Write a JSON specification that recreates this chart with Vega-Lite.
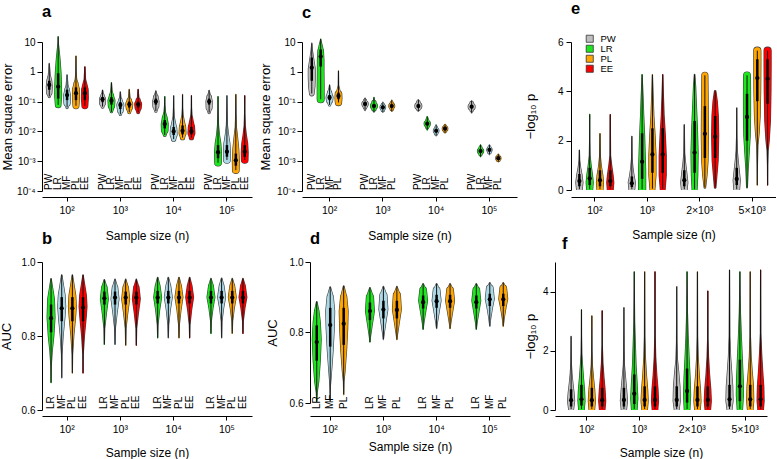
{
"$schema":"https://vega.github.io/schema/vega-lite/v6.json",
"padding":0,
"background":"white",
"config":{"font":"Liberation Sans","view":{"stroke":null},
 "axis":{"grid":false,"domainColor":"#000","tickColor":"#000","labelColor":"#000","titleColor":"#000","labelFontSize":10,"titleFontSize":13,"titleFontWeight":"normal","labelFont":"Liberation Sans","titleFont":"Liberation Sans"},
 "title":{"font":"Liberation Sans","fontSize":16.5,"fontWeight":"bold","anchor":"start","frame":"group","baseline":"alphabetic","color":"#000"}},
"datasets":{"vio":[
{"p":"a","g":"10²","m":"PW","v":[0.148,0.2,0.316,0.501,0.794,1.91],"w":[0.3,0.75,0.85,0.7,0.25,0],"md":0.363,"q1":0.25,"q3":0.5},
{"p":"a","g":"10²","m":"LR","v":[0.0776,0.158,0.398,1,2.51,5.01,7.94,10,15.1],"w":[0.8,1,0.95,0.8,0.55,0.3,0.1,0.03,0],"md":0.316,"q1":0.126,"q3":0.891},
{"p":"a","g":"10²","m":"MF","v":[0.0631,0.0891,0.158,0.251,0.355,0.794],"w":[0.3,0.9,1,0.65,0.25,0],"md":0.166,"q1":0.112,"q3":0.251},
{"p":"a","g":"10²","m":"PL","v":[0.0724,0.126,0.251,0.398,0.562,1,3.39],"w":[0.85,1,1,0.6,0.2,0.03,0],"md":0.191,"q1":0.112,"q3":0.3},
{"p":"a","g":"10²","m":"EE","v":[0.0724,0.126,0.251,0.398,0.562,1.48],"w":[0.85,1,0.95,0.55,0.2,0],"md":0.191,"q1":0.112,"q3":0.3},
{"p":"a","g":"10³","m":"PW","v":[0.0676,0.0891,0.12,0.158,0.2,0.245],"w":[0.4,0.85,0.85,0.5,0.15,0],"md":0.12,"q1":0.0955,"q3":0.141},
{"p":"a","g":"10³","m":"LR","v":[0.0457,0.0708,0.107,0.158,0.224,0.437],"w":[0.3,0.9,1,0.6,0.2,0],"md":0.107,"q1":0.0794,"q3":0.141},
{"p":"a","g":"10³","m":"MF","v":[0.0372,0.0501,0.0759,0.112,0.141,0.214],"w":[0.3,0.8,1,0.5,0.15,0],"md":0.0776,"q1":0.0562,"q3":0.0955},
{"p":"a","g":"10³","m":"PL","v":[0.0437,0.0631,0.0813,0.112,0.141,0.257],"w":[0.4,0.9,1,0.6,0.2,0],"md":0.0813,"q1":0.0631,"q3":0.1},
{"p":"a","g":"10³","m":"EE","v":[0.0437,0.0631,0.0813,0.112,0.141,0.257],"w":[0.4,0.9,1,0.6,0.2,0],"md":0.0813,"q1":0.0631,"q3":0.1},
{"p":"a","g":"10⁴","m":"PW","v":[0.0479,0.0708,0.1,0.141,0.191,0.229],"w":[0.3,0.85,0.9,0.65,0.2,0],"md":0.1,"q1":0.0794,"q3":0.126},
{"p":"a","g":"10⁴","m":"LR","v":[0.00759,0.0112,0.0178,0.0282,0.0447,0.0794,0.148],"w":[0.4,0.95,1,0.7,0.2,0.03,0],"md":0.0178,"q1":0.0126,"q3":0.024},
{"p":"a","g":"10⁴","m":"MF","v":[0.0055,0.00794,0.0126,0.02,0.0316,0.0631,0.158],"w":[0.6,1,0.9,0.5,0.15,0.03,0],"md":0.01,"q1":0.00759,"q3":0.0141},
{"p":"a","g":"10⁴","m":"PL","v":[0.00617,0.00891,0.0141,0.0224,0.0355,0.0631,0.174],"w":[0.6,1,0.9,0.5,0.15,0.03,0],"md":0.0105,"q1":0.00794,"q3":0.0158},
{"p":"a","g":"10⁴","m":"EE","v":[0.00617,0.00891,0.0141,0.0224,0.0355,0.0631,0.158],"w":[0.6,1,0.9,0.5,0.15,0.03,0],"md":0.01,"q1":0.00794,"q3":0.0141},
{"p":"a","g":"10⁵","m":"PW","v":[0.0427,0.0631,0.1,0.141,0.191,0.24],"w":[0.3,0.85,0.9,0.65,0.2,0],"md":0.1,"q1":0.0794,"q3":0.126},
{"p":"a","g":"10⁵","m":"LR","v":[0.000891,0.002,0.00398,0.00794,0.0158,0.0398,0.148],"w":[0.95,1,0.8,0.4,0.15,0.04,0],"md":0.002,"q1":0.00126,"q3":0.00347},
{"p":"a","g":"10⁵","m":"MF","v":[0.0011,0.002,0.00398,0.00794,0.0158,0.0398,0.158],"w":[0.95,1,0.85,0.45,0.15,0.04,0],"md":0.00209,"q1":0.00141,"q3":0.00347},
{"p":"a","g":"10⁵","m":"PL","v":[0.000501,0.001,0.00251,0.00631,0.0141,0.0398,0.174],"w":[0.95,1,0.85,0.5,0.15,0.04,0],"md":0.00107,"q1":0.000708,"q3":0.0018},
{"p":"a","g":"10⁵","m":"EE","v":[0.0011,0.002,0.00398,0.00794,0.0158,0.0398,0.158],"w":[0.95,1,0.85,0.45,0.15,0.04,0],"md":0.00209,"q1":0.00141,"q3":0.00347},
{"p":"c","g":"10²","m":"PW","v":[0.186,0.316,0.631,1.26,2.51,5.01,9.12],"w":[0.65,0.9,1,1,0.6,0.2,0],"md":1.38,"q1":0.5,"q3":3},
{"p":"c","g":"10²","m":"LR","v":[0.12,0.316,1,2.51,5.01,7.94,11.7,12.6],"w":[1,1,0.95,0.95,0.8,0.4,0.05,0],"md":3.24,"q1":1.5,"q3":5.6},
{"p":"c","g":"10²","m":"MF","v":[0.0776,0.112,0.138,0.2,0.282,0.363],"w":[0.3,0.9,1,0.6,0.15,0],"md":0.138,"q1":0.112,"q3":0.166},
{"p":"c","g":"10²","m":"PL","v":[0.0933,0.126,0.178,0.24,0.355,1.07],"w":[0.9,1,0.95,0.4,0.05,0],"md":0.155,"q1":0.12,"q3":0.2},
{"p":"c","g":"10³","m":"PW","v":[0.0501,0.0631,0.0832,0.107,0.132],"w":[0,0.5,0.9,0.45,0],"md":0.0832,"q1":0.0724,"q3":0.0955},
{"p":"c","g":"10³","m":"LR","v":[0.0447,0.0562,0.0708,0.0933,0.112,0.138],"w":[0.05,0.6,1,0.6,0.1,0],"md":0.0708,"q1":0.0631,"q3":0.0832},
{"p":"c","g":"10³","m":"MF","v":[0.0437,0.0525,0.0646,0.0794,0.0955],"w":[0,0.5,0.8,0.4,0],"md":0.0646,"q1":0.0575,"q3":0.0724},
{"p":"c","g":"10³","m":"PL","v":[0.0468,0.0562,0.0708,0.0891,0.112],"w":[0,0.5,0.85,0.45,0],"md":0.0708,"q1":0.0631,"q3":0.0794},
{"p":"c","g":"10⁴","m":"PW","v":[0.0468,0.0562,0.0708,0.0955,0.117],"w":[0,0.5,1,0.5,0],"md":0.0708,"q1":0.0631,"q3":0.0794},
{"p":"c","g":"10⁴","m":"LR","v":[0.0112,0.0141,0.0182,0.024,0.0316],"w":[0,0.5,0.9,0.4,0],"md":0.0182,"q1":0.0162,"q3":0.0204},
{"p":"c","g":"10⁴","m":"MF","v":[0.00708,0.00851,0.0105,0.0132,0.0166],"w":[0,0.5,0.8,0.4,0],"md":0.0105,"q1":0.0095,"q3":0.0117},
{"p":"c","g":"10⁴","m":"PL","v":[0.00891,0.0105,0.0123,0.0148,0.0174],"w":[0,0.5,0.8,0.4,0],"md":0.0123,"q1":0.0112,"q3":0.0135},
{"p":"c","g":"10⁵","m":"PW","v":[0.0417,0.0525,0.0676,0.0891,0.107],"w":[0,0.5,1,0.5,0],"md":0.0676,"q1":0.06,"q3":0.0759},
{"p":"c","g":"10⁵","m":"LR","v":[0.00141,0.00174,0.00219,0.00282,0.00355],"w":[0,0.5,0.9,0.45,0],"md":0.00219,"q1":0.00195,"q3":0.00245},
{"p":"c","g":"10⁵","m":"MF","v":[0.00166,0.002,0.0024,0.00295,0.00355],"w":[0,0.5,0.75,0.4,0],"md":0.0024,"q1":0.00215,"q3":0.00265},
{"p":"c","g":"10⁵","m":"PL","v":[0.000955,0.0011,0.00126,0.00148,0.00174],"w":[0,0.5,0.75,0.4,0],"md":0.00126,"q1":0.00115,"q3":0.00138},
{"p":"b","g":"10²","m":"LR","v":[0.674,0.72,0.76,0.8,0.85,0.9,0.93,0.955],"w":[0,0.05,0.3,0.7,1,0.85,0.4,0.03],"md":0.848,"q1":0.81,"q3":0.885},
{"p":"b","g":"10²","m":"MF","v":[0.687,0.75,0.8,0.85,0.88,0.91,0.94,0.965],"w":[0,0.05,0.35,0.8,1,0.85,0.4,0.03],"md":0.875,"q1":0.84,"q3":0.905},
{"p":"b","g":"10²","m":"PL","v":[0.7,0.75,0.8,0.85,0.88,0.91,0.94,0.965],"w":[0,0.05,0.35,0.8,1,0.85,0.4,0.03],"md":0.875,"q1":0.84,"q3":0.905},
{"p":"b","g":"10²","m":"EE","v":[0.7,0.75,0.8,0.85,0.88,0.91,0.94,0.965],"w":[0,0.05,0.35,0.8,1,0.85,0.4,0.03],"md":0.877,"q1":0.84,"q3":0.905},
{"p":"b","g":"10³","m":"LR","v":[0.777,0.82,0.86,0.9,0.93,0.952],"w":[0,0.08,0.5,1,0.7,0.05],"md":0.902,"q1":0.885,"q3":0.92},
{"p":"b","g":"10³","m":"MF","v":[0.777,0.82,0.86,0.9,0.93,0.953],"w":[0,0.08,0.5,1,0.7,0.05],"md":0.904,"q1":0.885,"q3":0.92},
{"p":"b","g":"10³","m":"PL","v":[0.775,0.82,0.86,0.9,0.93,0.953],"w":[0,0.08,0.5,1,0.7,0.05],"md":0.904,"q1":0.885,"q3":0.92},
{"p":"b","g":"10³","m":"EE","v":[0.775,0.82,0.86,0.9,0.93,0.953],"w":[0,0.08,0.5,1,0.7,0.05],"md":0.904,"q1":0.885,"q3":0.92},
{"p":"b","g":"10⁴","m":"LR","v":[0.795,0.83,0.87,0.905,0.935,0.958],"w":[0,0.08,0.5,1,0.6,0.05],"md":0.904,"q1":0.888,"q3":0.922},
{"p":"b","g":"10⁴","m":"MF","v":[0.795,0.83,0.87,0.905,0.935,0.958],"w":[0,0.08,0.5,1,0.6,0.05],"md":0.904,"q1":0.888,"q3":0.922},
{"p":"b","g":"10⁴","m":"PL","v":[0.795,0.83,0.87,0.905,0.935,0.958],"w":[0,0.08,0.5,1,0.6,0.05],"md":0.904,"q1":0.888,"q3":0.922},
{"p":"b","g":"10⁴","m":"EE","v":[0.795,0.83,0.87,0.905,0.935,0.958],"w":[0,0.08,0.5,1,0.6,0.05],"md":0.904,"q1":0.888,"q3":0.922},
{"p":"b","g":"10⁵","m":"LR","v":[0.807,0.84,0.875,0.905,0.935,0.955],"w":[0,0.08,0.5,1,0.6,0.05],"md":0.904,"q1":0.888,"q3":0.922},
{"p":"b","g":"10⁵","m":"MF","v":[0.795,0.84,0.875,0.905,0.935,0.956],"w":[0,0.08,0.5,1,0.6,0.05],"md":0.904,"q1":0.888,"q3":0.922},
{"p":"b","g":"10⁵","m":"PL","v":[0.807,0.84,0.875,0.905,0.935,0.955],"w":[0,0.08,0.5,1,0.6,0.05],"md":0.904,"q1":0.888,"q3":0.922},
{"p":"b","g":"10⁵","m":"EE","v":[0.807,0.84,0.875,0.905,0.935,0.955],"w":[0,0.08,0.5,1,0.6,0.05],"md":0.904,"q1":0.888,"q3":0.922},
{"p":"d","g":"10²","m":"LR","v":[0.605,0.63,0.66,0.72,0.78,0.83,0.86,0.887],"w":[0,0.1,0.45,0.8,1,0.8,0.5,0.05],"md":0.773,"q1":0.72,"q3":0.82},
{"p":"d","g":"10²","m":"MF","v":[0.605,0.65,0.69,0.75,0.81,0.86,0.9,0.929],"w":[0,0.05,0.3,0.65,0.9,1,0.7,0.05],"md":0.821,"q1":0.76,"q3":0.87},
{"p":"d","g":"10²","m":"PL","v":[0.624,0.66,0.69,0.75,0.81,0.86,0.9,0.932],"w":[0,0.05,0.3,0.65,0.9,1,0.7,0.05],"md":0.825,"q1":0.765,"q3":0.87},
{"p":"d","g":"10³","m":"LR","v":[0.773,0.79,0.82,0.86,0.9,0.927],"w":[0,0.15,0.5,1,0.8,0.05],"md":0.861,"q1":0.835,"q3":0.885},
{"p":"d","g":"10³","m":"MF","v":[0.78,0.795,0.825,0.865,0.905,0.93],"w":[0,0.15,0.5,1,0.8,0.05],"md":0.865,"q1":0.84,"q3":0.89},
{"p":"d","g":"10³","m":"PL","v":[0.78,0.795,0.825,0.865,0.905,0.93],"w":[0,0.15,0.5,1,0.8,0.05],"md":0.864,"q1":0.84,"q3":0.89},
{"p":"d","g":"10⁴","m":"LR","v":[0.809,0.83,0.86,0.89,0.92,0.938],"w":[0,0.2,0.6,1,0.75,0.05],"md":0.886,"q1":0.868,"q3":0.905},
{"p":"d","g":"10⁴","m":"MF","v":[0.811,0.83,0.86,0.89,0.92,0.938],"w":[0,0.2,0.6,1,0.75,0.05],"md":0.889,"q1":0.87,"q3":0.907},
{"p":"d","g":"10⁴","m":"PL","v":[0.811,0.83,0.86,0.89,0.92,0.938],"w":[0,0.2,0.6,1,0.75,0.05],"md":0.889,"q1":0.87,"q3":0.907},
{"p":"d","g":"10⁵","m":"LR","v":[0.809,0.83,0.86,0.89,0.92,0.938],"w":[0,0.2,0.6,1,0.75,0.05],"md":0.886,"q1":0.868,"q3":0.905},
{"p":"d","g":"10⁵","m":"MF","v":[0.818,0.84,0.87,0.895,0.925,0.941],"w":[0,0.2,0.6,1,0.75,0.05],"md":0.894,"q1":0.875,"q3":0.91},
{"p":"d","g":"10⁵","m":"PL","v":[0.818,0.84,0.87,0.895,0.925,0.941],"w":[0,0.2,0.6,1,0.75,0.05],"md":0.894,"q1":0.875,"q3":0.91},
{"p":"e","g":"10²","m":"PW","v":[0.03,0.3,0.6,0.9,1.2,1.62],"w":[0.8,1,0.75,0.35,0.08,0],"md":0.36,"q1":0.15,"q3":0.65},
{"p":"e","g":"10²","m":"LR","v":[0.03,0.3,0.6,1,1.4,2,3.07],"w":[0.85,1,0.8,0.4,0.1,0.02,0],"md":0.47,"q1":0.2,"q3":0.9},
{"p":"e","g":"10²","m":"PL","v":[0.03,0.3,0.6,1,1.4,2.29],"w":[0.85,1,0.8,0.35,0.08,0],"md":0.4,"q1":0.15,"q3":0.8},
{"p":"e","g":"10²","m":"EE","v":[0.03,0.3,0.6,1,1.4,3.06],"w":[0.85,1,0.8,0.4,0.08,0],"md":0.36,"q1":0.15,"q3":0.8},
{"p":"e","g":"10³","m":"PW","v":[0.03,0.3,0.6,0.9,1.3,2.18],"w":[0.8,1,0.6,0.3,0.06,0],"md":0.27,"q1":0.12,"q3":0.55},
{"p":"e","g":"10³","m":"LR","v":[0.03,0.8,1.5,2.2,3,3.8,4.3,4.68],"w":[1,1,0.85,0.7,0.45,0.25,0.1,0],"md":1.15,"q1":0.45,"q3":2.3},
{"p":"e","g":"10³","m":"PL","v":[0.05,0.6,1.4,2.2,3,3.8,4.68],"w":[0.7,1,1,0.75,0.4,0.2,0],"md":1.44,"q1":0.7,"q3":2.5},
{"p":"e","g":"10³","m":"EE","v":[0.05,0.6,1.4,2.2,3,3.8,4.68],"w":[0.7,1,1,0.75,0.4,0.2,0],"md":1.44,"q1":0.7,"q3":2.5},
{"p":"e","g":"2×10³","m":"PW","v":[0.03,0.3,0.7,1.1,1.5,2.65],"w":[0.8,1,0.7,0.35,0.1,0],"md":0.4,"q1":0.15,"q3":0.8},
{"p":"e","g":"2×10³","m":"LR","v":[0.03,0.6,1.5,2.5,3.5,4.2,4.68],"w":[0.7,0.9,1,0.8,0.5,0.3,0.05],"md":1.52,"q1":0.7,"q3":2.8},
{"p":"e","g":"2×10³","m":"PL","v":[0.1,0.6,1.2,2.2,3.2,4,4.65],"w":[0.2,0.6,0.9,1,0.95,0.9,0.85],"md":2.28,"q1":1.3,"q3":3.4},
{"p":"e","g":"2×10³","m":"EE","v":[0.1,0.6,1.2,2.2,3,3.6,4],"w":[0.2,0.5,0.85,1,0.9,0.6,0.2],"md":2.16,"q1":1.3,"q3":3},
{"p":"e","g":"5×10³","m":"PW","v":[0.03,0.4,0.8,1.2,1.6,2.2,3.33],"w":[0.8,1,0.7,0.4,0.15,0.03,0],"md":0.45,"q1":0.2,"q3":0.9},
{"p":"e","g":"5×10³","m":"LR","v":[0.1,0.8,1.5,2.2,3,4,4.65],"w":[0.1,0.3,0.6,0.9,1,1,0.95],"md":2.96,"q1":2,"q3":3.9},
{"p":"e","g":"5×10³","m":"PL","v":[0.2,1,1.8,2.3,3,4,5,5.65],"w":[0,0.03,0.15,0.5,0.8,0.95,1,1],"md":4.54,"q1":3.6,"q3":5.3},
{"p":"e","g":"5×10³","m":"EE","v":[0.2,1,1.6,2,2.8,4,5,5.65],"w":[0,0.03,0.15,0.45,0.8,0.95,1,1],"md":4.51,"q1":3.5,"q3":5.3},
{"p":"f","g":"10²","m":"PW","v":[0.03,0.3,0.6,0.9,1.2,1.6,2.49],"w":[0.7,1,0.8,0.5,0.25,0.05,0],"md":0.33,"q1":0.12,"q3":0.7},
{"p":"f","g":"10²","m":"LR","v":[0.03,0.3,0.7,1.1,1.5,1.9,2.5,3.39],"w":[0.8,1,0.85,0.55,0.3,0.1,0.02,0],"md":0.36,"q1":0.15,"q3":0.85},
{"p":"f","g":"10²","m":"PL","v":[0.03,0.3,0.7,1.1,1.5,2,3.18],"w":[0.8,1,0.8,0.45,0.15,0.03,0],"md":0.33,"q1":0.12,"q3":0.75},
{"p":"f","g":"10²","m":"EE","v":[0.03,0.3,0.7,1.1,1.6,2.2,3.35],"w":[0.8,1,0.8,0.5,0.2,0.03,0],"md":0.33,"q1":0.12,"q3":0.75},
{"p":"f","g":"10³","m":"PW","v":[0.03,0.3,0.7,1.1,1.5,2,3.46],"w":[0.75,1,0.75,0.45,0.15,0.03,0],"md":0.34,"q1":0.12,"q3":0.75},
{"p":"f","g":"10³","m":"LR","v":[0.03,0.4,0.9,1.5,2.2,3,3.8,4.67],"w":[0.8,1,0.8,0.5,0.3,0.1,0.03,0],"md":0.55,"q1":0.2,"q3":1.2},
{"p":"f","g":"10³","m":"PL","v":[0.03,0.3,0.7,1.2,1.8,2.5,4.67],"w":[0.8,1,0.85,0.5,0.2,0.05,0],"md":0.34,"q1":0.12,"q3":0.8},
{"p":"f","g":"10³","m":"EE","v":[0.03,0.3,0.7,1.2,1.8,2.5,4.67],"w":[0.8,1,0.85,0.5,0.2,0.05,0],"md":0.34,"q1":0.12,"q3":0.8},
{"p":"f","g":"2×10³","m":"PW","v":[0.03,0.3,0.8,1.3,1.7,2.3,4.17],"w":[0.7,1,0.9,0.55,0.2,0.05,0],"md":0.34,"q1":0.12,"q3":0.8},
{"p":"f","g":"2×10³","m":"LR","v":[0.03,0.5,1.1,1.8,2.5,3.3,4,4.67],"w":[0.8,1,0.85,0.55,0.3,0.1,0.03,0],"md":0.64,"q1":0.25,"q3":1.4},
{"p":"f","g":"2×10³","m":"PL","v":[0.03,0.3,0.7,1.2,1.8,2.5,4.67],"w":[0.8,1,0.85,0.5,0.2,0.05,0],"md":0.34,"q1":0.12,"q3":0.8},
{"p":"f","g":"2×10³","m":"EE","v":[0.03,0.3,0.7,1.2,1.8,2.4,4.02],"w":[0.8,1,0.85,0.5,0.2,0.05,0],"md":0.34,"q1":0.12,"q3":0.8},
{"p":"f","g":"5×10³","m":"PW","v":[0.03,0.3,0.8,1.3,1.8,2.5,4.73],"w":[0.7,1,0.9,0.6,0.3,0.08,0],"md":0.36,"q1":0.12,"q3":0.85},
{"p":"f","g":"5×10³","m":"LR","v":[0.03,0.5,1,1.7,2.5,3.3,4,4.67],"w":[0.75,1,0.95,0.7,0.4,0.15,0.04,0],"md":0.8,"q1":0.3,"q3":1.7},
{"p":"f","g":"5×10³","m":"PL","v":[0.03,0.3,0.8,1.3,1.8,2.5,4.67],"w":[0.8,1,0.9,0.55,0.25,0.05,0],"md":0.36,"q1":0.12,"q3":0.85},
{"p":"f","g":"5×10³","m":"EE","v":[0.03,0.3,0.8,1.3,1.9,2.6,4.73],"w":[0.8,1,0.9,0.6,0.3,0.06,0],"md":0.36,"q1":0.12,"q3":0.85}
]},
"spacing":-12,
"resolve":{"scale":{"fill":"independent","xOffset":"independent","size":"independent"}},
"vconcat":[
{"spacing":7,
 "resolve":{"scale":{"fill":"independent","xOffset":"independent","size":"independent"}},
 "hconcat":[
 {"width":210,"height":149,"title":{"text":"a","offset":16},
  "data":{"name":"vio"},"transform":[{"filter":"datum.p == 'a'"}],
  "encoding":{"x":{"field":"g","type":"nominal","sort":["10²","10³","10⁴","10⁵"],"scale":{"type":"band","paddingInner":0.165,"paddingOuter":0.053},"axis":{"offset":6,"tickSize":4,"labelPadding":4,"labelAngle":0,"labelFontSize":10.5,"titleFontSize":12,"titlePadding":15},"title":"Sample size (n)"},
   "xOffset":{"field":"m","type":"nominal","scale":{"type":"band","domain":["PW","LR","MF","PL","EE"],"paddingInner":0,"paddingOuter":0}}},
  "resolve":{"scale":{"size":"independent"}},
  "layer":[
   {"transform":[{"flatten":["v","w"]}],"mark":{"type":"trail","color":"#3c3c3c"},"encoding":{"y":{"field":"v","type":"quantitative","scale":{"type":"log","domain":[0.0001,10]},"axis":{"values":[0.0001,0.001,0.01,0.1,1,10],"labelExpr":"datum.value > 5 ? '10' : datum.value > 0.5 ? '1' : datum.value > 0.05 ? '10⁻¹' : datum.value > 0.005 ? '10⁻²' : datum.value > 0.0005 ? '10⁻³' : '10⁻⁴'","tickSize":5,"labelPadding":2,"titlePadding":2,"title":"Mean square error"}},"size":{"field":"w","type":"quantitative","scale":{"domain":[0,1],"range":[1.2,8]},"legend":null},"order":{"field":"v","type":"quantitative"},"detail":[{"field":"g"},{"field":"m"}]}},
   {"transform":[{"flatten":["v","w"]}],"mark":{"type":"trail"},"encoding":{"y":{"field":"v","type":"quantitative","scale":{"type":"log","domain":[0.0001,10]},"title":"Mean square error"},"size":{"field":"w","type":"quantitative","scale":{"domain":[0,1],"range":[0,6.8]},"legend":null},"fill":{"field":"m","type":"nominal","scale":{"domain":["PW","LR","MF","PL","EE"],"range":["#bebebe","#1ee61e","#add8e6","#ffa500","#ff0000"]},"legend":null},"order":{"field":"v","type":"quantitative"},"detail":[{"field":"g"}]}},
   {"transform":[{"flatten":["v","w"]}],"mark":{"type":"rule","color":"#111","strokeWidth":1},"encoding":{"y":{"aggregate":"min","field":"v","type":"quantitative","scale":{"type":"log","domain":[0.0001,10]},"title":"Mean square error"},"y2":{"aggregate":"max","field":"v"}}},
   {"mark":{"type":"rule","color":"#000","strokeWidth":2.5},"encoding":{"y":{"field":"q1","type":"quantitative","scale":{"type":"log","domain":[0.0001,10]},"title":"Mean square error"},"y2":{"field":"q3"}}},
   {"mark":{"type":"point","filled":true,"color":"#000","size":18,"opacity":1},"encoding":{"y":{"field":"md","type":"quantitative","scale":{"type":"log","domain":[0.0001,10]},"title":"Mean square error"}}},
   {"mark":{"type":"text","angle":270,"align":"left","baseline":"middle","dx":1,"fontSize":10,"color":"#000"},"encoding":{"y":{"datum":0.0001,"type":"quantitative","scale":{"type":"log","domain":[0.0001,10]},"title":"Mean square error"},"text":{"field":"m"}}}
  ]},
 {"width":215,"height":149,"title":{"text":"c","offset":16},
  "data":{"name":"vio"},"transform":[{"filter":"datum.p == 'c'"}],
  "encoding":{"x":{"field":"g","type":"nominal","sort":["10²","10³","10⁴","10⁵"],"scale":{"type":"band","paddingInner":0.165,"paddingOuter":0.1},"axis":{"offset":6,"tickSize":4,"labelPadding":4,"labelAngle":0,"labelFontSize":10.5,"titleFontSize":12,"titlePadding":15},"title":"Sample size (n)"},
   "xOffset":{"field":"m","type":"nominal","scale":{"type":"band","domain":["PW","LR","MF","PL","EE"],"paddingInner":0,"paddingOuter":0}}},
  "resolve":{"scale":{"size":"independent"}},
  "layer":[
   {"transform":[{"flatten":["v","w"]}],"mark":{"type":"trail","color":"#3c3c3c"},"encoding":{"y":{"field":"v","type":"quantitative","scale":{"type":"log","domain":[0.0001,10]},"axis":{"values":[0.0001,0.001,0.01,0.1,1,10],"labelExpr":"datum.value > 5 ? '10' : datum.value > 0.5 ? '1' : datum.value > 0.05 ? '10⁻¹' : datum.value > 0.005 ? '10⁻²' : datum.value > 0.0005 ? '10⁻³' : '10⁻⁴'","tickSize":5,"labelPadding":2,"titlePadding":4,"title":"Mean square error"}},"size":{"field":"w","type":"quantitative","scale":{"domain":[0,1],"range":[1.2,8]},"legend":null},"order":{"field":"v","type":"quantitative"},"detail":[{"field":"g"},{"field":"m"}]}},
   {"transform":[{"flatten":["v","w"]}],"mark":{"type":"trail"},"encoding":{"y":{"field":"v","type":"quantitative","scale":{"type":"log","domain":[0.0001,10]},"title":"Mean square error"},"size":{"field":"w","type":"quantitative","scale":{"domain":[0,1],"range":[0,6.8]},"legend":null},"fill":{"field":"m","type":"nominal","scale":{"domain":["PW","LR","MF","PL","EE"],"range":["#bebebe","#1ee61e","#add8e6","#ffa500","#ff0000"]},"legend":null},"order":{"field":"v","type":"quantitative"},"detail":[{"field":"g"}]}},
   {"transform":[{"flatten":["v","w"]}],"mark":{"type":"rule","color":"#111","strokeWidth":1},"encoding":{"y":{"aggregate":"min","field":"v","type":"quantitative","scale":{"type":"log","domain":[0.0001,10]},"title":"Mean square error"},"y2":{"aggregate":"max","field":"v"}}},
   {"mark":{"type":"rule","color":"#000","strokeWidth":2.5},"encoding":{"y":{"field":"q1","type":"quantitative","scale":{"type":"log","domain":[0.0001,10]},"title":"Mean square error"},"y2":{"field":"q3"}}},
   {"mark":{"type":"point","filled":true,"color":"#000","size":18,"opacity":1},"encoding":{"y":{"field":"md","type":"quantitative","scale":{"type":"log","domain":[0.0001,10]},"title":"Mean square error"}}},
   {"mark":{"type":"text","angle":270,"align":"left","baseline":"middle","dx":1,"fontSize":10,"color":"#000"},"encoding":{"y":{"datum":0.0001,"type":"quantitative","scale":{"type":"log","domain":[0.0001,10]},"title":"Mean square error"},"text":{"field":"m"}}}
  ]},
 {"width":205,"height":148,"title":{"text":"e","offset":17},
  "data":{"name":"vio"},"transform":[{"filter":"datum.p == 'e'"}],
  "encoding":{"x":{"field":"g","type":"nominal","sort":["10²","10³","2×10³","5×10³"],"scale":{"type":"band","paddingInner":0.215,"paddingOuter":0.062},"axis":{"offset":7,"tickSize":4,"labelPadding":4,"labelAngle":0,"labelFontSize":10.5,"titleFontSize":12,"titlePadding":14},"title":"Sample size (n)"},
   "xOffset":{"field":"m","type":"nominal","scale":{"type":"band","domain":["PW","LR","PL","EE"],"paddingInner":0,"paddingOuter":0}}},
  "resolve":{"scale":{"size":"independent"}},
  "layer":[
   {"transform":[{"flatten":["v","w"]}],"mark":{"type":"trail","color":"#3c3c3c","clip":true},"encoding":{"y":{"field":"v","type":"quantitative","scale":{"domain":[0,6]},"axis":{"values":[0,2,4,6],"tickSize":5,"labelPadding":3,"titlePadding":20,"title":"−log₁₀ p"}},"size":{"field":"w","type":"quantitative","scale":{"domain":[0,1],"range":[1.2,8.2]},"legend":null},"order":{"field":"v","type":"quantitative"},"detail":[{"field":"g"},{"field":"m"}]}},
   {"transform":[{"flatten":["v","w"]}],"mark":{"type":"trail","clip":true},"encoding":{"y":{"field":"v","type":"quantitative","scale":{"domain":[0,6]},"title":"−log₁₀ p"},"size":{"field":"w","type":"quantitative","scale":{"domain":[0,1],"range":[0,7]},"legend":null},"fill":{"field":"m","type":"nominal","scale":{"domain":["PW","LR","PL","EE"],"range":["#bebebe","#1ee61e","#ffa500","#ff0000"]},"legend":{"title":null,"orient":"none","legendX":14,"legendY":-8,"symbolType":"square","symbolSize":50,"symbolStrokeColor":"#333","symbolStrokeWidth":0.8,"symbolOpacity":1,"labelFontSize":9.5,"rowPadding":-1,"labelOffset":6}},"order":{"field":"v","type":"quantitative"},"detail":[{"field":"g"}]}},
   {"transform":[{"flatten":["v","w"]}],"mark":{"type":"rule","color":"#111","strokeWidth":1},"encoding":{"y":{"aggregate":"min","field":"v","type":"quantitative","scale":{"domain":[0,6]},"title":"−log₁₀ p"},"y2":{"aggregate":"max","field":"v"}}},
   {"mark":{"type":"rule","color":"#000","strokeWidth":2.5},"encoding":{"y":{"field":"q1","type":"quantitative","scale":{"domain":[0,6]},"title":"−log₁₀ p"},"y2":{"field":"q3"}}},
   {"mark":{"type":"point","filled":true,"color":"#000","size":18,"opacity":1},"encoding":{"y":{"field":"md","type":"quantitative","scale":{"domain":[0,6]},"title":"−log₁₀ p"}}}
  ]}
 ]},
{"spacing":14,
 "resolve":{"scale":{"fill":"independent","xOffset":"independent","size":"independent"}},
 "hconcat":[
 {"width":210,"height":148,"title":{"text":"b","offset":10},
  "data":{"name":"vio"},"transform":[{"filter":"datum.p == 'b'"}],
  "encoding":{"x":{"field":"g","type":"nominal","sort":["10²","10³","10⁴","10⁵"],"scale":{"type":"band","paddingInner":0.2,"paddingOuter":0.07},"axis":{"offset":6,"tickSize":4,"labelPadding":4,"labelAngle":0,"labelFontSize":10.5,"titleFontSize":12,"titlePadding":13},"title":"Sample size (n)"},
   "xOffset":{"field":"m","type":"nominal","scale":{"type":"band","domain":["LR","MF","PL","EE"],"paddingInner":0,"paddingOuter":0}}},
  "resolve":{"scale":{"size":"independent"}},
  "layer":[
   {"transform":[{"flatten":["v","w"]}],"mark":{"type":"trail","color":"#3c3c3c"},"encoding":{"y":{"field":"v","type":"quantitative","scale":{"domain":[0.6,1]},"axis":{"values":[0.6,0.7,0.8,0.9,1],"format":".1f","tickSize":5,"labelPadding":2,"titlePadding":8,"title":"AUC"}},"size":{"field":"w","type":"quantitative","scale":{"domain":[0,1],"range":[1.2,9]},"legend":null},"order":{"field":"v","type":"quantitative"},"detail":[{"field":"g"},{"field":"m"}]}},
   {"transform":[{"flatten":["v","w"]}],"mark":{"type":"trail"},"encoding":{"y":{"field":"v","type":"quantitative","scale":{"domain":[0.6,1]},"title":"AUC"},"size":{"field":"w","type":"quantitative","scale":{"domain":[0,1],"range":[0,7.8]},"legend":null},"fill":{"field":"m","type":"nominal","scale":{"domain":["PW","LR","MF","PL","EE"],"range":["#bebebe","#1ee61e","#add8e6","#ffa500","#ff0000"]},"legend":null},"order":{"field":"v","type":"quantitative"},"detail":[{"field":"g"}]}},
   {"transform":[{"flatten":["v","w"]}],"mark":{"type":"rule","color":"#111","strokeWidth":1},"encoding":{"y":{"aggregate":"min","field":"v","type":"quantitative","scale":{"domain":[0.6,1]},"title":"AUC"},"y2":{"aggregate":"max","field":"v"}}},
   {"mark":{"type":"rule","color":"#000","strokeWidth":2.5},"encoding":{"y":{"field":"q1","type":"quantitative","scale":{"domain":[0.6,1]},"title":"AUC"},"y2":{"field":"q3"}}},
   {"mark":{"type":"point","filled":true,"color":"#000","size":18,"opacity":1},"encoding":{"y":{"field":"md","type":"quantitative","scale":{"domain":[0.6,1]},"title":"AUC"}}},
   {"mark":{"type":"text","angle":270,"align":"left","baseline":"middle","dx":1,"fontSize":10,"color":"#000"},"encoding":{"y":{"datum":0.6,"type":"quantitative","scale":{"domain":[0.6,1]},"title":"AUC"},"text":{"field":"m"}}}
  ]},
 {"width":200,"height":141,"title":{"text":"d","offset":10},
  "data":{"name":"vio"},"transform":[{"filter":"datum.p == 'd'"}],
  "encoding":{"x":{"field":"g","type":"nominal","sort":["10²","10³","10⁴","10⁵"],"scale":{"type":"band","paddingInner":0.24,"paddingOuter":0},"axis":{"offset":13,"tickSize":4,"labelPadding":4,"labelAngle":0,"labelFontSize":10.5,"titleFontSize":12,"titlePadding":7},"title":"Sample size (n)"},
   "xOffset":{"field":"m","type":"nominal","scale":{"type":"band","domain":["LR","MF","PL"],"paddingInner":0,"paddingOuter":0}}},
  "resolve":{"scale":{"size":"independent"}},
  "layer":[
   {"transform":[{"flatten":["v","w"]}],"mark":{"type":"trail","color":"#3c3c3c"},"encoding":{"y":{"field":"v","type":"quantitative","scale":{"domain":[0.6,1]},"axis":{"values":[0.6,0.7,0.8,0.9,1],"format":".1f","tickSize":5,"labelPadding":2,"titlePadding":10,"title":"AUC"}},"size":{"field":"w","type":"quantitative","scale":{"domain":[0,1],"range":[1.2,10]},"legend":null},"order":{"field":"v","type":"quantitative"},"detail":[{"field":"g"},{"field":"m"}]}},
   {"transform":[{"flatten":["v","w"]}],"mark":{"type":"trail"},"encoding":{"y":{"field":"v","type":"quantitative","scale":{"domain":[0.6,1]},"title":"AUC"},"size":{"field":"w","type":"quantitative","scale":{"domain":[0,1],"range":[0,8.8]},"legend":null},"fill":{"field":"m","type":"nominal","scale":{"domain":["PW","LR","MF","PL","EE"],"range":["#bebebe","#1ee61e","#add8e6","#ffa500","#ff0000"]},"legend":null},"order":{"field":"v","type":"quantitative"},"detail":[{"field":"g"}]}},
   {"transform":[{"flatten":["v","w"]}],"mark":{"type":"rule","color":"#111","strokeWidth":1},"encoding":{"y":{"aggregate":"min","field":"v","type":"quantitative","scale":{"domain":[0.6,1]},"title":"AUC"},"y2":{"aggregate":"max","field":"v"}}},
   {"mark":{"type":"rule","color":"#000","strokeWidth":2.5},"encoding":{"y":{"field":"q1","type":"quantitative","scale":{"domain":[0.6,1]},"title":"AUC"},"y2":{"field":"q3"}}},
   {"mark":{"type":"point","filled":true,"color":"#000","size":18,"opacity":1},"encoding":{"y":{"field":"md","type":"quantitative","scale":{"domain":[0.6,1]},"title":"AUC"}}},
   {"mark":{"type":"text","angle":270,"align":"left","baseline":"middle","dx":-6,"fontSize":10,"color":"#000"},"encoding":{"y":{"datum":0.6,"type":"quantitative","scale":{"domain":[0.6,1]},"title":"AUC"},"text":{"field":"m"}}}
  ]},
 {"width":212,"height":148,"title":{"text":"f","offset":10,"dx":7},
  "data":{"name":"vio"},"transform":[{"filter":"datum.p == 'f'"}],
  "encoding":{"x":{"field":"g","type":"nominal","sort":["10²","10³","2×10³","5×10³"],"scale":{"type":"band","paddingInner":0.215,"paddingOuter":0.115,"align":0.9},"axis":{"offset":6,"tickSize":4,"labelPadding":4,"labelAngle":0,"labelFontSize":10.5,"titleFontSize":12,"titlePadding":13},"title":"Sample size (n)"},
   "xOffset":{"field":"m","type":"nominal","scale":{"type":"band","domain":["PW","LR","PL","EE"],"paddingInner":0,"paddingOuter":0}}},
  "resolve":{"scale":{"size":"independent"}},
  "layer":[
   {"transform":[{"flatten":["v","w"]}],"mark":{"type":"trail","color":"#3c3c3c","clip":true},"encoding":{"y":{"field":"v","type":"quantitative","scale":{"domain":[0,5]},"axis":{"values":[0,2,4],"tickSize":5,"labelPadding":2,"titlePadding":5,"title":"−log₁₀ p"}},"size":{"field":"w","type":"quantitative","scale":{"domain":[0,1],"range":[1.2,8.2]},"legend":null},"order":{"field":"v","type":"quantitative"},"detail":[{"field":"g"},{"field":"m"}]}},
   {"transform":[{"flatten":["v","w"]}],"mark":{"type":"trail","clip":true},"encoding":{"y":{"field":"v","type":"quantitative","scale":{"domain":[0,5]},"title":"−log₁₀ p"},"size":{"field":"w","type":"quantitative","scale":{"domain":[0,1],"range":[0,7]},"legend":null},"fill":{"field":"m","type":"nominal","scale":{"domain":["PW","LR","PL","EE"],"range":["#bebebe","#1ee61e","#ffa500","#ff0000"]},"legend":null},"order":{"field":"v","type":"quantitative"},"detail":[{"field":"g"}]}},
   {"transform":[{"flatten":["v","w"]}],"mark":{"type":"rule","color":"#111","strokeWidth":1},"encoding":{"y":{"aggregate":"min","field":"v","type":"quantitative","scale":{"domain":[0,5]},"title":"−log₁₀ p"},"y2":{"aggregate":"max","field":"v"}}},
   {"mark":{"type":"rule","color":"#000","strokeWidth":2.5},"encoding":{"y":{"field":"q1","type":"quantitative","scale":{"domain":[0,5]},"title":"−log₁₀ p"},"y2":{"field":"q3"}}},
   {"mark":{"type":"point","filled":true,"color":"#000","size":18,"opacity":1},"encoding":{"y":{"field":"md","type":"quantitative","scale":{"domain":[0,5]},"title":"−log₁₀ p"}}}
  ]}
 ]}
]
}
